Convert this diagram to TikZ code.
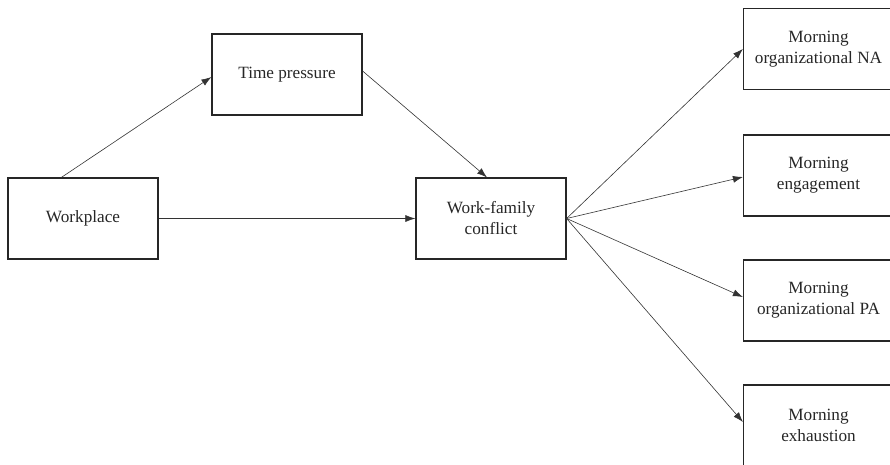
\documentclass[tikz,border=0pt]{standalone}
\usepackage{fontspec}
\setmainfont{Liberation Serif}
\usetikzlibrary{arrows.meta}
\begin{document}
\begin{tikzpicture}[x=1pt,y=-1pt,
  box/.style={draw=black!85, line width=1.2pt, rectangle, minimum width=150pt, minimum height=81pt, align=center, inner sep=0pt, text=black!85, font=\fontsize{17.2}{21}\selectfont},
  conn/.style={draw=black!80, line width=0.6pt, -{Latex[length=10pt,width=7pt]}}]
\useasboundingbox (0,0) rectangle (890,464);
\clip (0,0) rectangle (890,464);
\node[box] (wp) at (83,218.5) {Workplace};
\node[box] (tp) at (287,74.5) {Time pressure};
\node[box] (wfc) at (491,218.5) {Work-family\\conflict};
\node[box] (na) at (818.5,49) {Morning\\organizational NA};
\node[box] (en) at (818.5,175.5) {Morning\\engagement};
\node[box] (pa) at (818.5,300.5) {Morning\\organizational PA};
\node[box] (ex) at (818.5,425.5) {Morning\\exhaustion};
\draw[conn] ([xshift=54pt]wp.north west) -- ([yshift=-2.5pt]tp.west);
\draw[conn] ([yshift=3.5pt]tp.east) -- ([xshift=-4pt]wfc.north);
\draw[conn] (wp.east) -- (wfc.west);
\draw[conn] (wfc.east) -- (na.west);
\draw[conn] (wfc.east) -- ([yshift=-1.5pt]en.west);
\draw[conn] (wfc.east) -- ([yshift=3.5pt]pa.west);
\draw[conn] (wfc.east) -- ([yshift=3.5pt]ex.west);
\end{tikzpicture}
\end{document}
